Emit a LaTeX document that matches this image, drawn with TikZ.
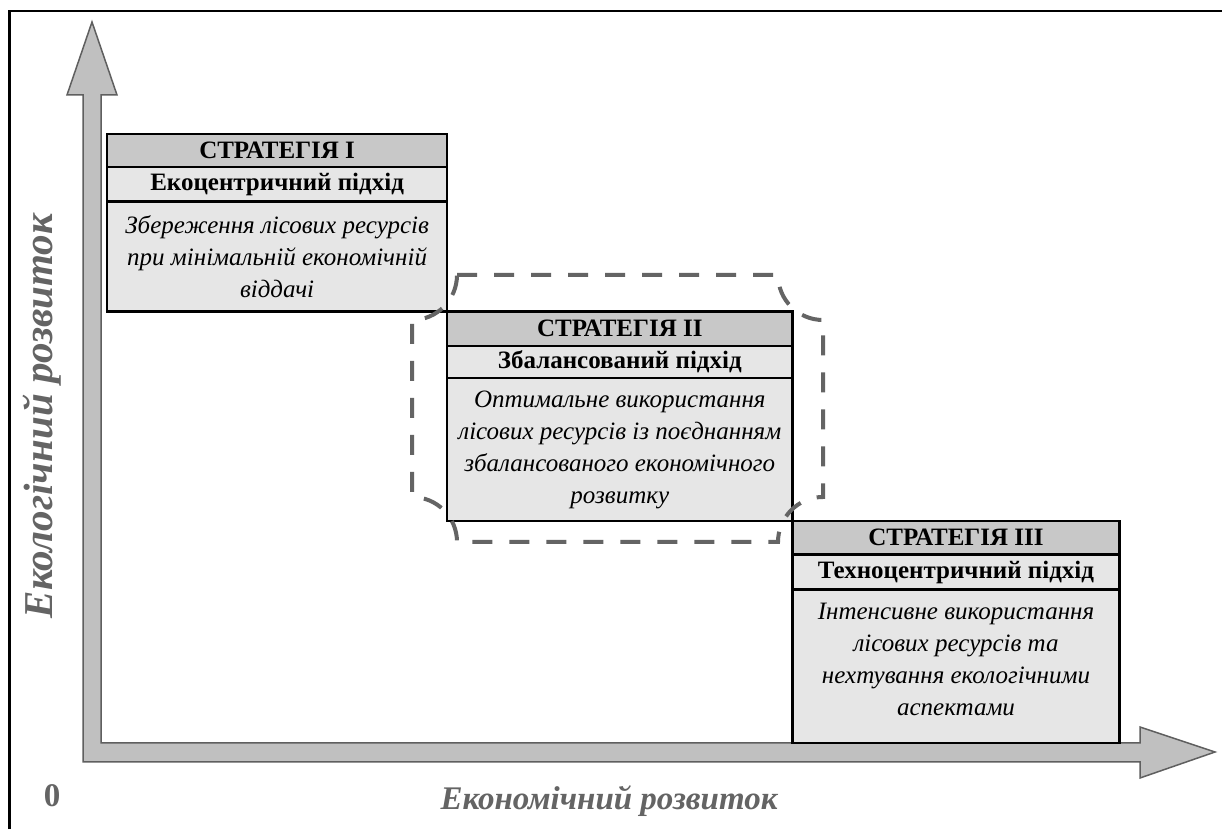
\documentclass[tikz,border=0pt]{standalone}
\usepackage{fontspec}
\setmainfont{Liberation Serif}
\begin{document}
\begin{tikzpicture}[x=1pt,y=1pt,
  hdr/.style={draw=black,line width=1.2pt,fill=hdrgray,anchor=north west,inner sep=0pt,
    font=\fontsize{25}{28}\selectfont\bfseries},
  subrow/.style={draw=black,line width=1.2pt,fill=rowgray,anchor=north west,inner sep=0pt,
    font=\fontsize{25}{28}\selectfont\bfseries},
  bodyrow/.style={draw=black,line width=1.2pt,fill=rowgray,anchor=north west,inner sep=0pt,
    align=center,font=\fontsize{25}{32}\selectfont\itshape},
  bodytext/.style={align=center,inner sep=0pt,font=\fontsize{25}{32}\selectfont\itshape},
  outerbox/.style={draw=black,line width=2.4pt},
  axislabel/.style={text=axisgray,font=\fontsize{33}{36}\selectfont\bfseries\itshape},
  plaque/.style={draw=dashgray,line width=4pt,dash pattern=on 20pt off 17pt}
]
\definecolor{hdrgray}{RGB}{200,200,200}
\definecolor{rowgray}{RGB}{230,230,230}
\definecolor{axisgray}{RGB}{100,100,100}
\definecolor{axisfill}{RGB}{192,192,192}
\definecolor{axisline}{RGB}{95,95,95}
\definecolor{dashgray}{RGB}{100,100,100}
\useasboundingbox (0,0) rectangle (1222,829);
\fill[white] (0,0) rectangle (1222,829);
% frame
\draw[line width=2.5pt] (9.5,0) -- (9.5,818) -- (1222,818);
% axes
\draw[axisline,line width=1.5pt,fill=axisfill,line join=miter]
  (92,807) -- (117,734) -- (101,734) -- (101,86) -- (1140,86) -- (1140,102)
  -- (1215,77) -- (1140,51) -- (1140,67) -- (83,67) -- (83,734) -- (67,734) -- cycle;
% strategy I
\node[hdr,minimum width=339pt,minimum height=32pt] (h1) at (107,695) {СТРАТЕГІЯ І};
\node[subrow,minimum width=339pt,minimum height=33pt] (s1) at (h1.south west) {Екоцентричний підхід};
\node[bodyrow,minimum width=339pt,minimum height=109pt] (b1) at (s1.south west)
  {Збереження лісових ресурсів\\при мінімальній економічній\\віддачі};
\draw[outerbox] (h1.north west) rectangle (b1.south east);
% strategy II
\node[hdr,minimum width=344pt,minimum height=33pt] (h2) at (b1.south east) {СТРАТЕГІЯ ІІ};
\node[subrow,minimum width=344pt,minimum height=31pt] (s2) at (h2.south west) {Збалансований підхід};
\node[bodyrow,minimum width=344pt,minimum height=142pt] (b2) at (s2.south west)
  {Оптимальне використання\\лісових ресурсів із поєднанням\\збалансованого економічного\\розвитку};
\draw[outerbox] (h2.north west) rectangle (b2.south east);
% strategy III
\node[hdr,minimum width=326pt,minimum height=32pt] (h3) at (b2.south east) {СТРАТЕГІЯ ІІІ};
\node[subrow,minimum width=326pt,minimum height=34pt] (s3) at (h3.south west) {Техноцентричний підхід};
\node[bodyrow,minimum width=326pt,minimum height=152pt] (b3) at (s3.south west) {};
\node[bodytext] (t3) at ([yshift=7pt]b3.center)
  {Інтенсивне використання\\лісових ресурсів та\\нехтування екологічними\\аспектами};
\draw[outerbox] (h3.north west) rectangle (b3.south east);
% dashed plaque
\draw[plaque] (457,554) -- (778,554) arc[start angle=180,end angle=270,radius=45pt]
  -- (823,332) arc[start angle=90,end angle=180,radius=45pt]
  -- (457,287) arc[start angle=0,end angle=90,radius=45pt]
  -- (412,509) arc[start angle=270,end angle=360,radius=45pt] -- cycle;
% labels
\node[axislabel,rotate=90,font=\fontsize{41}{44}\selectfont\bfseries\itshape] (ylab) at (42,413) {Екологічний розвиток};
\node[axislabel] (xlab) at (609,28) {Економічний розвиток};
\node[text=axisgray,font=\fontsize{33}{34}\selectfont\bfseries] (zero) at (52,33) {0};
\end{tikzpicture}
\end{document}
